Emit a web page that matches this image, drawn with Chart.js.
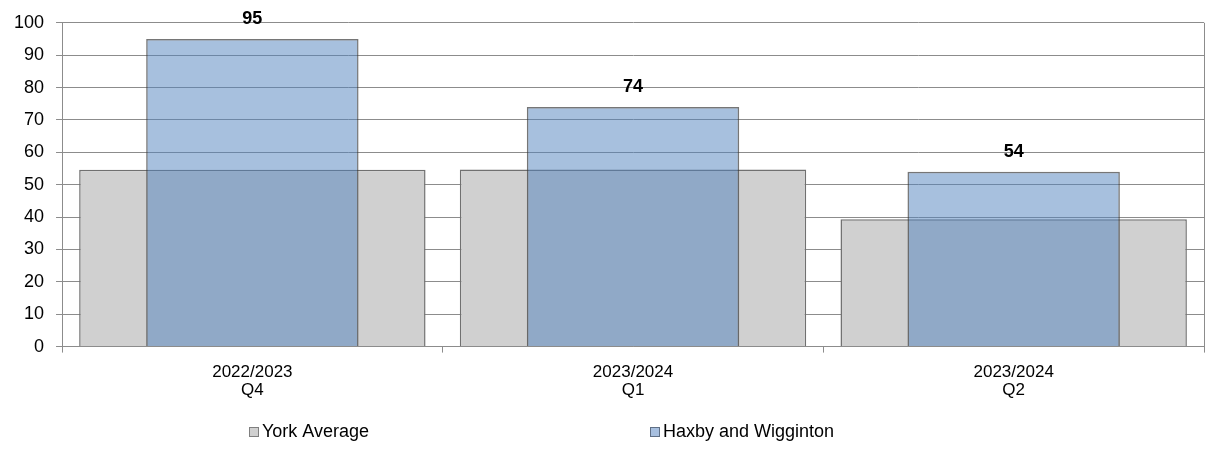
<!DOCTYPE html>
<html>
<head>
<meta charset="utf-8">
<script src="https://cdn.jsdelivr.net/npm/chart.js@4"></script>
<style>
  body { margin: 0; background: #fff; }
  #wrap { width: 1208px; height: 470px; }
</style>
</head>
<body>
<div id="wrap"><canvas id="chart" width="1208" height="470"></canvas></div>
<script>
const categories = [["2022/2023", "Q4"], ["2023/2024", "Q1"], ["2023/2024", "Q2"]];
const yorkAverage = [54.6, 54.7, 39.3];
const haxby = [95, 74, 54];
const yTicks = [0, 10, 20, 30, 40, 50, 60, 70, 80, 90, 100];
const seriesNames = ["York Average", "Haxby and Wigginton"];

const gridColor = "#8c8c8c";
const font = "Liberation Sans, Arial, sans-serif";

// value labels above the blue bars
const valueLabels = {
  id: "valueLabels",
  afterDatasetsDraw(chart) {
    const ctx = chart.ctx;
    const meta = chart.getDatasetMeta(1);
    ctx.save();
    ctx.font = "bold 18px " + font;
    ctx.fillStyle = "#000";
    ctx.textAlign = "center";
    ctx.textBaseline = "middle";
    meta.data.forEach((bar, i) => {
      ctx.fillText(haxby[i], bar.x, bar.y - 20);
    });
    ctx.restore();
  }
};

// right border of plot + legend at the bottom
const extras = {
  id: "extras",
  afterDraw(chart) {
    const ctx = chart.ctx;
    const area = chart.chartArea;
    ctx.save();
    ctx.strokeStyle = gridColor;
    ctx.lineWidth = 1;
    ctx.beginPath();
    ctx.moveTo(Math.round(area.right) + 0.5, area.top);
    ctx.lineTo(Math.round(area.right) + 0.5, area.bottom);
    ctx.stroke();

    const items = [
      { x: 249, fill: "#d0d0d0", stroke: "#7f7f7f", text: seriesNames[0] },
      { x: 650, fill: "#a7bfdf", stroke: "#5f6f85", text: seriesNames[1] }
    ];
    const y = 432;
    ctx.font = "18px " + font;
    ctx.textBaseline = "middle";
    ctx.textAlign = "left";
    items.forEach(it => {
      ctx.fillStyle = it.fill;
      ctx.fillRect(it.x, y - 5, 10, 10);
      ctx.strokeStyle = it.stroke;
      ctx.strokeRect(it.x + 0.5, y - 4.5, 9, 9);
      ctx.fillStyle = "#000";
      ctx.fillText(it.text, it.x + 13, y);
    });
    ctx.restore();
  }
};

new Chart(document.getElementById("chart"), {
  type: "bar",
  data: {
    labels: categories,
    datasets: [
      {
        label: seriesNames[0],
        data: yorkAverage,
        backgroundColor: "#d0d0d0",
        borderColor: "#707070",
        borderWidth: 1.5,
        grouped: false,
        categoryPercentage: 1,
        barPercentage: 0.91,
        order: 1
      },
      {
        label: seriesNames[1],
        data: haxby,
        backgroundColor: "rgba(79, 129, 189, 0.5)",
        borderColor: "rgba(60, 60, 60, 0.7)",
        borderWidth: 1.5,
        grouped: false,
        categoryPercentage: 1,
        barPercentage: 0.558,
        order: 0
      }
    ]
  },
  options: {
    responsive: false,
    animation: false,
    layout: { padding: { top: 22, left: 2, right: 4, bottom: 60 } },
    plugins: {
      legend: { display: false },
      tooltip: { enabled: false }
    },
    scales: {
      x: {
        offset: true,
        grid: {
          offset: true,
          drawOnChartArea: false,
          drawTicks: true,
          tickLength: 6,
          color: gridColor
        },
        border: { color: gridColor, width: 1 },
        ticks: {
          color: "#000",
          font: { family: font, size: 17, lineHeight: 1.1 },
          padding: 10,
          maxRotation: 0
        }
      },
      y: {
        min: 0,
        max: 100,
        z: 1,
        afterBuildTicks(axis) {
          axis.ticks = yTicks.map(v => ({ value: v }));
        },
        grid: {
          color: gridColor,
          tickLength: 6,
          drawTicks: true
        },
        border: { color: gridColor, width: 1 },
        ticks: {
          color: "#000",
          font: { family: font, size: 18 },
          padding: 12
        }
      }
    }
  },
  plugins: [valueLabels, extras]
});
</script>
</body>
</html>
